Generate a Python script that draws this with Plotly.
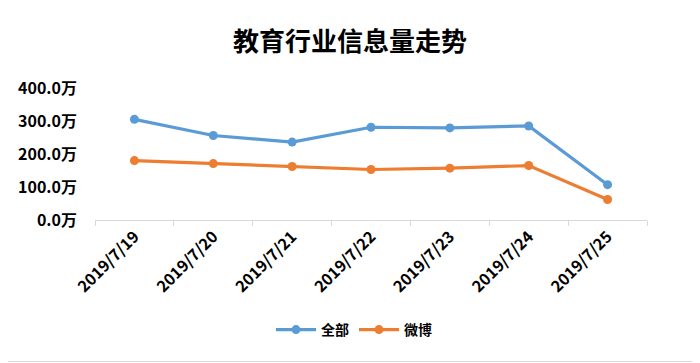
import plotly.graph_objects as go

categories = ["2019/7/19", "2019/7/20", "2019/7/21", "2019/7/22", "2019/7/23", "2019/7/24", "2019/7/25"]
total_vals = [305, 256, 236, 281, 279, 285, 107]
weibo_vals = [180, 171, 162, 153, 157, 165, 62]
y_ticks = [0, 100, 200, 300, 400]
y_labels = ["0.0万", "100.0万", "200.0万", "300.0万", "400.0万"]

# page body has an 8px margin; design in window coords then shift
OFF = 8
WIN_W, WIN_H = 700, 363
W, H = WIN_W - OFF, WIN_H - OFF
# plot area in window coords: x 94.5..647.5, y 88..219.5
ML = 95 - OFF
MR = WIN_W - 647
MT = 88 - OFF
MB = WIN_H - 220

font_family = "Noto Sans CJK SC, Microsoft YaHei, sans-serif"

fig = go.Figure()
fig.add_trace(go.Scatter(x=categories, y=total_vals, name="全部", mode="lines+markers",
                         line=dict(color="#5B9BD5", width=3.2),
                         marker=dict(color="#5B9BD5", size=9)))
fig.add_trace(go.Scatter(x=categories, y=weibo_vals, name="微博", mode="lines+markers",
                         line=dict(color="#ED7D31", width=3.2),
                         marker=dict(color="#ED7D31", size=9)))

pw = W - ML - MR
ph = H - MT - MB
fig.add_shape(type="rect", xref="paper", yref="paper",
              x0=(-ML - OFF) / pw, x1=(pw + MR - 2.5) / pw,
              y0=(-MB + 1.5) / ph, y1=(ph + MT + OFF) / ph,
              line=dict(color="#D9D9D9", width=1), layer="below")

fig.update_layout(
    width=W, height=H,
    margin=dict(l=ML, r=MR, t=MT, b=MB, autoexpand=False),
    paper_bgcolor="white", plot_bgcolor="white",
    font=dict(family=font_family, color="#000000", size=14, weight="bold"),
    title=dict(text="教育行业信息量走势", x=(350 - OFF) / W, xref="container", xanchor="center",
               y=1 - (42 - OFF) / H, yref="container", yanchor="middle",
               font=dict(size=26, family=font_family, color="#000000", weight="bold")),
    showlegend=True,
    legend=dict(orientation="h", x=(354 - OFF) / W, xref="container", xanchor="center",
                y=1 - (330 - OFF) / H, yref="container", yanchor="middle",
                font=dict(size=14, family=font_family, color="#000000", weight="bold"),
                itemwidth=40),
    xaxis=dict(type="category", showgrid=False, showline=True, linecolor="#D9D9D9", linewidth=1,
               ticks="outside", tickson="boundaries", ticklen=5, tickcolor="#D9D9D9",
               tickangle=-45, automargin=False,
               tickfont=dict(size=16, family=font_family, color="#000000", weight="bold"),
               range=[-0.5, 6.5]),
    yaxis=dict(range=[0, 400], tickvals=y_ticks, ticktext=y_labels, showgrid=False, zeroline=False,
               showline=False, ticks="", ticklabelstandoff=17, automargin=False,
               tickfont=dict(size=16, family=font_family, color="#000000", weight="bold")),
)

fig.write_html("out.html")
